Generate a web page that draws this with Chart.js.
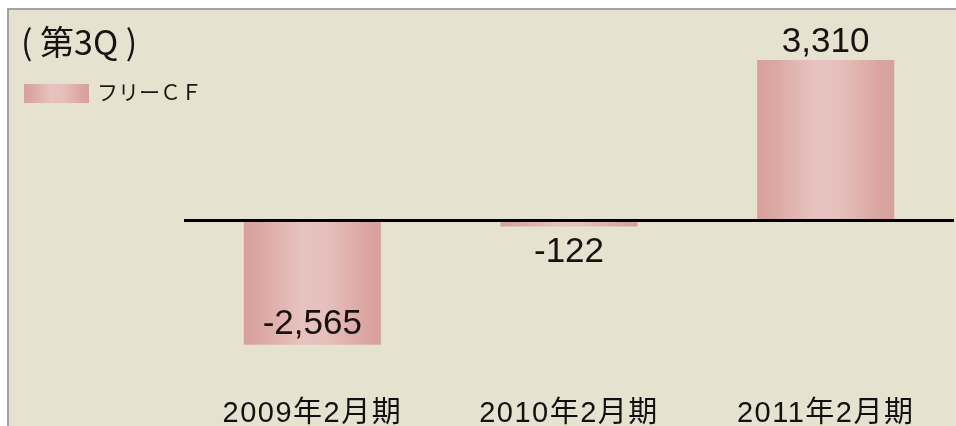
<!DOCTYPE html>
<html>
<head>
<meta charset="utf-8">
<script src="https://cdn.jsdelivr.net/npm/chart.js@4/dist/chart.umd.min.js"></script>
<style>
  html, body { margin: 0; padding: 0; background: #ffffff; }
  #wrap { position: relative; width: 956px; height: 426px; overflow: hidden; }
  #panel { position: absolute; left: 7px; top: 8px; width: 960px; height: 430px;
           background: #E5E2D0; border-top: 2px solid #A3A3A3; border-left: 2px solid #A3A3A3; }
  #c { position: absolute; left: 0; top: 0; }
  #title { position: absolute; left: 21px; top: 24px; font-family: 'Noto Sans CJK JP', sans-serif;
           font-size: 34px; line-height: 1; color: #1A1212; white-space: pre; }
  #legend { position: absolute; left: 24px; top: 79px; display: flex; align-items: center; }
  #swatch { width: 65px; height: 19px; margin-top: 5px;
            background: linear-gradient(to right, #D8A09C 0%, #DBA7A3 12%, #E7C3BF 42%, #E5C0BC 60%, #DBA6A2 88%, #D7A09B 100%); }
  #legtext { margin-left: 8px; font-family: 'Noto Sans CJK JP', sans-serif; font-size: 21px;
             line-height: 1; color: #221414; }
</style>
</head>
<body>
<div id="wrap">
  <div id="panel"></div>
  <canvas id="c" width="956" height="426"></canvas>
  <div id="title">( 第3Q )</div>
  <div id="legend"><div id="swatch"></div><div id="legtext">フリーＣＦ</div></div>
</div>
<script>
const categories = ['2009年2月期', '2010年2月期', '2011年2月期'];
const seriesName = 'フリーＣＦ';
const freeCF = [-2565, -122, 3310];
const yMin = -3290;
const yMax = 4135;

const barPct = 0.534;

function barGradient(ctx) {
  const chart = ctx.chart;
  const xs = chart.scales && chart.scales.x;
  if (!chart.chartArea || !xs || ctx.dataIndex === undefined) return '#E0B4B0';
  const center = xs.getPixelForValue(ctx.dataIndex);
  const w = (xs.width / categories.length) * barPct;
  const g = chart.ctx.createLinearGradient(center - w / 2, 0, center + w / 2, 0);
  g.addColorStop(0, '#D8A09C');
  g.addColorStop(0.12, '#DBA7A3');
  g.addColorStop(0.42, '#E7C3BF');
  g.addColorStop(0.6, '#E5C0BC');
  g.addColorStop(0.88, '#DBA6A2');
  g.addColorStop(1, '#D7A09B');
  return g;
}

const tickSpacing = {
  id: 'tickSpacing',
  beforeDraw(chart) { chart.ctx.letterSpacing = '1.5px'; },
  beforeDatasetsDraw(chart) { chart.ctx.letterSpacing = '0px'; },
  afterDraw(chart) { chart.ctx.letterSpacing = '0px'; }
};

const zeroLine = {
  id: 'zeroLine',
  afterDatasetsDraw(chart) {
    const ctx = chart.ctx;
    const y = chart.scales.y.getPixelForValue(0);
    ctx.save();
    ctx.strokeStyle = '#000000';
    ctx.lineWidth = 3;
    ctx.beginPath();
    ctx.moveTo(chart.chartArea.left, y);
    ctx.lineTo(chart.chartArea.right, y);
    ctx.stroke();
    ctx.restore();
  }
};

const valueLabels = {
  id: 'valueLabels',
  afterDatasetsDraw(chart) {
    const ctx = chart.ctx;
    const meta = chart.getDatasetMeta(0);
    ctx.save();
    ctx.letterSpacing = '0px';
    ctx.font = "35px 'Liberation Sans', Arial, sans-serif";
    ctx.fillStyle = '#1A1010';
    ctx.textAlign = 'center';
    ctx.textBaseline = 'alphabetic';
    meta.data.forEach((bar, i) => {
      const v = freeCF[i];
      const text = v.toLocaleString('en-US');
      let y;
      if (v >= 0) {
        y = bar.y - 8;
      } else if (Math.abs(bar.y - bar.base) > 60) {
        y = bar.y - 11;
      } else {
        y = bar.y + 36;
      }
      ctx.fillText(text, bar.x, y);
    });
    ctx.restore();
  }
};

new Chart(document.getElementById('c'), {
  type: 'bar',
  data: {
    labels: categories,
    datasets: [{
      label: seriesName,
      data: freeCF,
      backgroundColor: barGradient,
      borderWidth: 0,
      barPercentage: barPct,
      categoryPercentage: 1.0
    }]
  },
  options: {
    responsive: false,
    animation: false,
    layout: { padding: { left: 184, right: 2, top: 20, bottom: 0 } },
    plugins: {
      legend: { display: false },
      title: { display: false },
      tooltip: { enabled: false }
    },
    scales: {
      x: {
        grid: { display: false },
        border: { display: false },
        ticks: {
          maxRotation: 0,
          autoSkip: false,
          padding: 9,
          color: '#111111',
          font: { size: 29, family: "'Liberation Sans', 'Noto Sans CJK JP', sans-serif" }
        },
        afterFit(s) { s.height = 46; }
      },
      y: {
        min: yMin,
        max: yMax,
        display: true,
        border: { display: false },
        ticks: { display: false },
        grid: { display: false },
        afterFit(s) { s.width = 0; }
      }
    }
  },
  plugins: [tickSpacing, zeroLine, valueLabels]
});
</script>
</body>
</html>
